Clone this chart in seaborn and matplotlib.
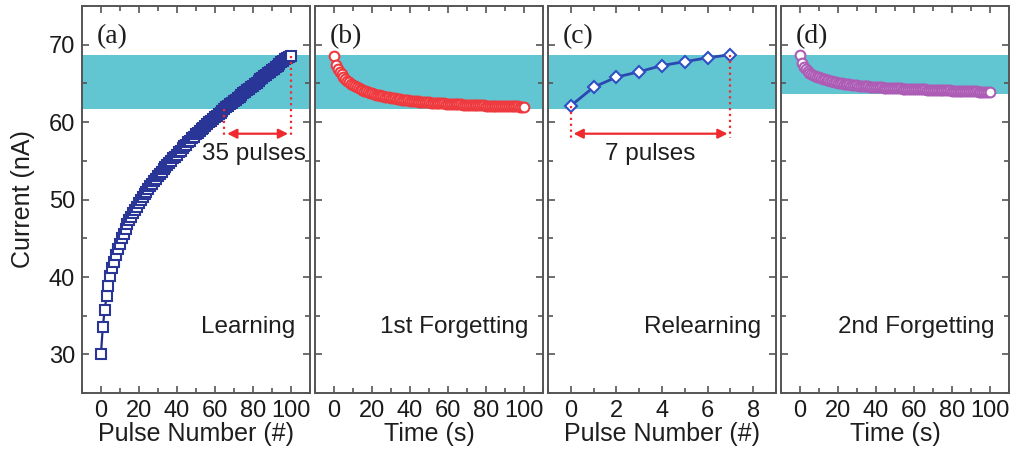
import numpy as np
import pandas as pd
import matplotlib
matplotlib.use("Agg")
import matplotlib.pyplot as plt
from matplotlib.ticker import MultipleLocator
import seaborn as sns

# ==================== Data ====================
learn_pulse = list(range(0, 101))
learn_current = [
    30.0, 33.5, 35.8, 37.5, 38.9, 40.1, 41.1, 42.0, 42.8, 43.6,
    44.3, 45.0, 45.6, 46.2, 46.8, 47.3, 47.8, 48.3, 48.7, 49.1,
    49.5, 49.9, 50.3, 50.7, 51.0, 51.4, 51.7, 52.0, 52.4, 52.7,
    53.0, 53.3, 53.6, 53.9, 54.2, 54.4, 54.7, 55.0, 55.3, 55.5,
    55.8, 56.1, 56.3, 56.6, 56.9, 57.1, 57.4, 57.6, 57.9, 58.1,
    58.4, 58.6, 58.8, 59.1, 59.3, 59.5, 59.7, 60.0, 60.2, 60.4,
    60.6, 60.8, 61.0, 61.2, 61.4, 61.7, 61.9, 62.1, 62.3, 62.5,
    62.7, 62.9, 63.1, 63.3, 63.5, 63.7, 63.9, 64.1, 64.3, 64.5,
    64.7, 64.9, 65.1, 65.3, 65.5, 65.7, 65.9, 66.1, 66.3, 66.5,
    66.7, 66.9, 67.1, 67.3, 67.5, 67.7, 67.9, 68.1, 68.3, 68.4,
    68.5,
]

forget1_time = list(range(0, 101))
forget1_current = [
    68.5, 67.4, 66.9, 66.5, 66.15, 65.85, 65.6, 65.35, 65.15, 64.95,
    64.8, 64.65, 64.5, 64.4, 64.25, 64.15, 64.05, 63.95, 63.85, 63.75,
    63.7, 63.62, 63.55, 63.5, 63.44, 63.38, 63.33, 63.28, 63.23, 63.18,
    63.14, 63.1, 63.06, 63.02, 62.98, 62.94, 62.9, 62.87, 62.84, 62.81,
    62.78, 62.75, 62.72, 62.69, 62.67, 62.65, 62.62, 62.6, 62.58, 62.56,
    62.54, 62.52, 62.5, 62.48, 62.46, 62.45, 62.43, 62.41, 62.4, 62.38,
    62.37, 62.35, 62.34, 62.32, 62.31, 62.3, 62.28, 62.27, 62.26, 62.25,
    62.24, 62.23, 62.22, 62.21, 62.2, 62.19, 62.18, 62.17, 62.16, 62.15,
    62.14, 62.13, 62.12, 62.12, 62.11, 62.1, 62.09, 62.08, 62.08, 62.07,
    62.06, 62.06, 62.05, 62.04, 62.04, 62.03, 62.02, 62.02, 62.01, 62.0,
    62.0,
]

relearn_pulse = [0, 1, 2, 3, 4, 5, 6, 7]
relearn_current = [62.1, 64.5, 65.8, 66.5, 67.3, 67.8, 68.3, 68.7]

forget2_time = list(range(0, 101))
forget2_current = [
    68.6, 67.6, 67.15, 66.85, 66.6, 66.4, 66.25, 66.1, 65.98, 65.87,
    65.77, 65.68, 65.6, 65.52, 65.45, 65.38, 65.32, 65.26, 65.2, 65.15,
    65.1, 65.06, 65.02, 64.98, 64.94, 64.9, 64.87, 64.84, 64.81, 64.78,
    64.75, 64.72, 64.7, 64.68, 64.65, 64.63, 64.61, 64.59, 64.57, 64.55,
    64.53, 64.51, 64.5, 64.48, 64.46, 64.45, 64.43, 64.42, 64.4, 64.39,
    64.38, 64.36, 64.35, 64.34, 64.33, 64.32, 64.31, 64.3, 64.29, 64.28,
    64.27, 64.26, 64.25, 64.24, 64.23, 64.22, 64.21, 64.2, 64.19, 64.18,
    64.17, 64.16, 64.15, 64.14, 64.13, 64.12, 64.11, 64.1, 64.09, 64.08,
    64.07, 64.06, 64.05, 64.04, 64.03, 64.02, 64.01, 64.0, 63.99, 63.98,
    63.97, 63.96, 63.95, 63.95, 63.94, 63.93, 63.92, 63.92, 63.91, 63.9,
    63.9,
]

# cyan "memory" bands (lower, upper) per panel
bands = [(61.7, 68.6), (61.7, 68.6), (61.7, 68.6), (63.6, 68.6)]
panel_tags = ['(a)', '(b)', '(c)', '(d)']
stage_names = ['Learning', '1st Forgetting', 'Relearning', '2nd Forgetting']
xlabels = ['Pulse Number (#)', 'Time (s)', 'Pulse Number (#)', 'Time (s)']

# ==================== Style ====================
sns.set_style("ticks")
plt.rcParams.update({
    'xtick.direction': 'in',
    'ytick.direction': 'in',
    'xtick.top': True,
    'ytick.right': True,
    'axes.linewidth': 1.4,
    'axes.edgecolor': '#555555',
    'xtick.color': '#555555',
    'ytick.color': '#555555',
    'xtick.labelcolor': '#1a1a1a',
    'ytick.labelcolor': '#1a1a1a',
})
plt.rcParams['font.family'] = ['Liberation Sans', 'DejaVu Sans']

BAND_COLOR = '#62c6d2'
RED = '#ee2a2e'
TXT = '#1e1e1e'

fig, axes = plt.subplots(1, 4, figsize=(10.11, 4.53), dpi=100)
fig.subplots_adjust(left=0.081, right=0.998, top=0.987, bottom=0.132, wspace=0.022)

frames = [
    (learn_pulse, learn_current, dict(marker='s', color='#232b8a', mec='#2a3598', ms=6.5, lw=1.6)),
    (forget1_time, forget1_current, dict(marker='o', color='#ee3a3e', mec='#ee3a3e', ms=7, lw=1.2)),
    (relearn_pulse, relearn_current, dict(marker='D', color='#2a48b0', mec='#2f4fc4', ms=6.5, lw=2.0)),
    (forget2_time, forget2_current, dict(marker='o', color='#a656ae', mec='#ad5cb5', ms=7, lw=1.2)),
]

for i, (ax, (xs, ys, st)) in enumerate(zip(axes, frames)):
    lo, hi = bands[i]
    ax.axhspan(lo, hi, color=BAND_COLOR, lw=0, zorder=0)
    df = pd.DataFrame({'x': xs, 'y': ys})
    sns.lineplot(data=df, x='x', y='y', ax=ax, color=st['color'], lw=st['lw'],
                 marker=st['marker'], markersize=st['ms'], markerfacecolor='white',
                 markeredgecolor=st['mec'], markeredgewidth=1.5, zorder=3)
    ax.set_ylim(25, 75)
    ax.yaxis.set_major_locator(MultipleLocator(10))
    ax.yaxis.set_minor_locator(MultipleLocator(5))
    if i == 2:
        ax.set_xlim(-1, 9)
        ax.xaxis.set_major_locator(MultipleLocator(2))
        ax.xaxis.set_minor_locator(MultipleLocator(1))
    else:
        ax.set_xlim(-10, 110)
        ax.xaxis.set_major_locator(MultipleLocator(20))
        ax.xaxis.set_minor_locator(MultipleLocator(10))
    ax.tick_params(which='major', length=5, width=1.2, labelsize=17, pad=5)
    ax.tick_params(which='minor', length=3.5, width=1.2)
    ax.tick_params(which='both', top=True, right=True)
    ax.set_xlabel(xlabels[i], fontsize=18, labelpad=0, color=TXT)
    if i == 0:
        ax.set_ylabel('Current (nA)', fontsize=18, labelpad=10, color=TXT)
    else:
        ax.set_ylabel('')
        ax.tick_params(axis='y', labelleft=False)
    ax.text(0.065, 0.92, panel_tags[i], transform=ax.transAxes, fontsize=20,
            family=['Liberation Serif', 'DejaVu Serif'], ha='left', va='center', color=TXT)
    ax.text(0.935, 0.17, stage_names[i], transform=ax.transAxes, fontsize=17.5,
            ha='right', va='center', color=TXT)

# ==================== Annotations ====================
ARROW_Y = 58.5
DROP_Y = 57.9
ax = axes[0]
ax.plot([65, 65], [61.7, DROP_Y], ls=':', color=RED, lw=1.6, zorder=4)
ax.plot([100, 100], [68.5, DROP_Y], ls=':', color=RED, lw=1.6, zorder=4)
ax.annotate('', xy=(100, ARROW_Y), xytext=(65, ARROW_Y),
            arrowprops=dict(arrowstyle='<|-|>', color=RED, lw=1.6, mutation_scale=14))
ax.text(80.5, 55.9, '35 pulses', fontsize=17.5, ha='center', va='center', color=TXT)

ax = axes[2]
ax.plot([0, 0], [62.1, DROP_Y], ls=':', color=RED, lw=1.6, zorder=4)
ax.plot([7, 7], [68.7, DROP_Y], ls=':', color=RED, lw=1.6, zorder=4)
ax.annotate('', xy=(7, ARROW_Y), xytext=(0, ARROW_Y),
            arrowprops=dict(arrowstyle='<|-|>', color=RED, lw=1.6, mutation_scale=14))
ax.text(3.5, 55.9, '7 pulses', fontsize=17.5, ha='center', va='center', color=TXT)

plt.savefig('out.png', dpi=100)
plt.close()
